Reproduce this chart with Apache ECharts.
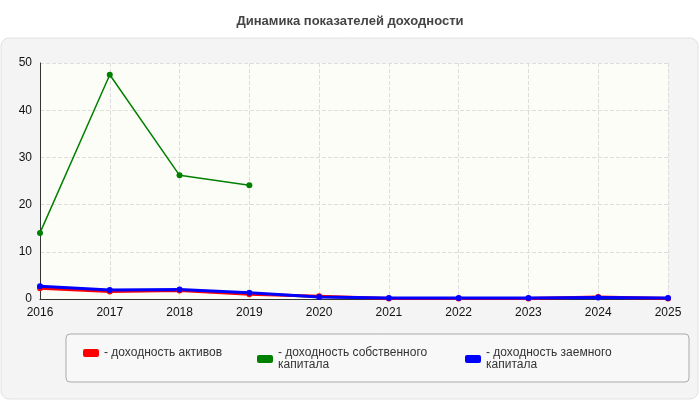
<!DOCTYPE html>
<html>
<head>
<meta charset="utf-8">
<script src="https://cdn.jsdelivr.net/npm/echarts@6/dist/echarts.min.js"></script>
<style>body{margin:0;background:#fff}</style>
</head>
<body>
<div id="main" style="width:700px;height:400px"></div>
<script>
var years = ['2016','2017','2018','2019','2020','2021','2022','2023','2024','2025'];
var assets = [2.3, 1.6, 1.8, 1.0, 0.6, 0.1, 0.1, 0.1, 0.4, 0.1];
var equity = [14.0, 47.5, 26.2, 24.1, null, null, null, null, null, null];
var debt = [2.7, 1.9, 2.0, 1.3, 0.4, 0.2, 0.2, 0.2, 0.3, 0.2];
var names = ['доходность активов', 'доходность собственного\nкапитала', 'доходность заемного\nкапитала'];
var legendLeft = [78, 252, 460];

var chart = echarts.init(document.getElementById('main'));
function line(name, data, color) {
  return {
    name: name, type: 'line', data: data, connectNulls: false,
    symbol: 'circle', symbolSize: 6, color: color,
    lineStyle: {width: name === names[1] ? 1.5 : 3, color: color},
    itemStyle: {color: color}
  };
}
chart.setOption({
  backgroundColor: '#fff',
  title: {text: 'Динамика показателей доходности', left: 'center', top: 10,
    textStyle: {fontFamily: 'Liberation Sans', fontSize: 13, fontWeight: 'bold', color: '#444'}},
  graphic: [
    {type: 'rect', shape: {x: 1, y: 38, width: 697, height: 361, r: 8},
     style: {fill: '#f4f4f4', stroke: '#e2e2e2'}, z: -10},
    {type: 'rect', shape: {x: 66, y: 334, width: 623, height: 48, r: 4},
     style: {fill: '#f8f8f8', stroke: '#aaa'}, z: -5}
  ],
  grid: {left: 40, right: 32, top: 63, bottom: 101, show: true, backgroundColor: '#fdfdf8', borderWidth: 0},
  legend: names.map(function (n, i) {
    return {
      data: [n], left: legendLeft[i], top: 342, itemWidth: 16, itemHeight: 8, itemGap: 4,
      icon: 'roundRect', formatter: '- {name}', align: 'left',
      textStyle: {fontFamily: 'Liberation Sans', fontSize: 12, color: '#333', lineHeight: 12,
        verticalAlign: 'top', padding: [0, 0, 0, 0]}
    };
  }),
  xAxis: {
    type: 'category', data: years, boundaryGap: false,
    axisLine: {lineStyle: {color: '#333'}}, axisTick: {show: false},
    axisLabel: {color: '#111', fontFamily: 'Liberation Sans', fontSize: 12},
    splitLine: {show: true, lineStyle: {type: 'dashed', color: '#ddd'}}
  },
  yAxis: {
    type: 'value', min: 0, max: 50, interval: 10,
    axisLine: {show: true, lineStyle: {color: '#333'}},
    axisLabel: {color: '#111', fontFamily: 'Liberation Sans', fontSize: 12},
    splitLine: {lineStyle: {type: 'dashed', color: '#ddd'}}
  },
  series: [
    line(names[0], assets, '#ff0000'),
    line(names[1], equity, '#008000'),
    line(names[2], debt, '#0000ff')
  ]
});
</script>
</body>
</html>
